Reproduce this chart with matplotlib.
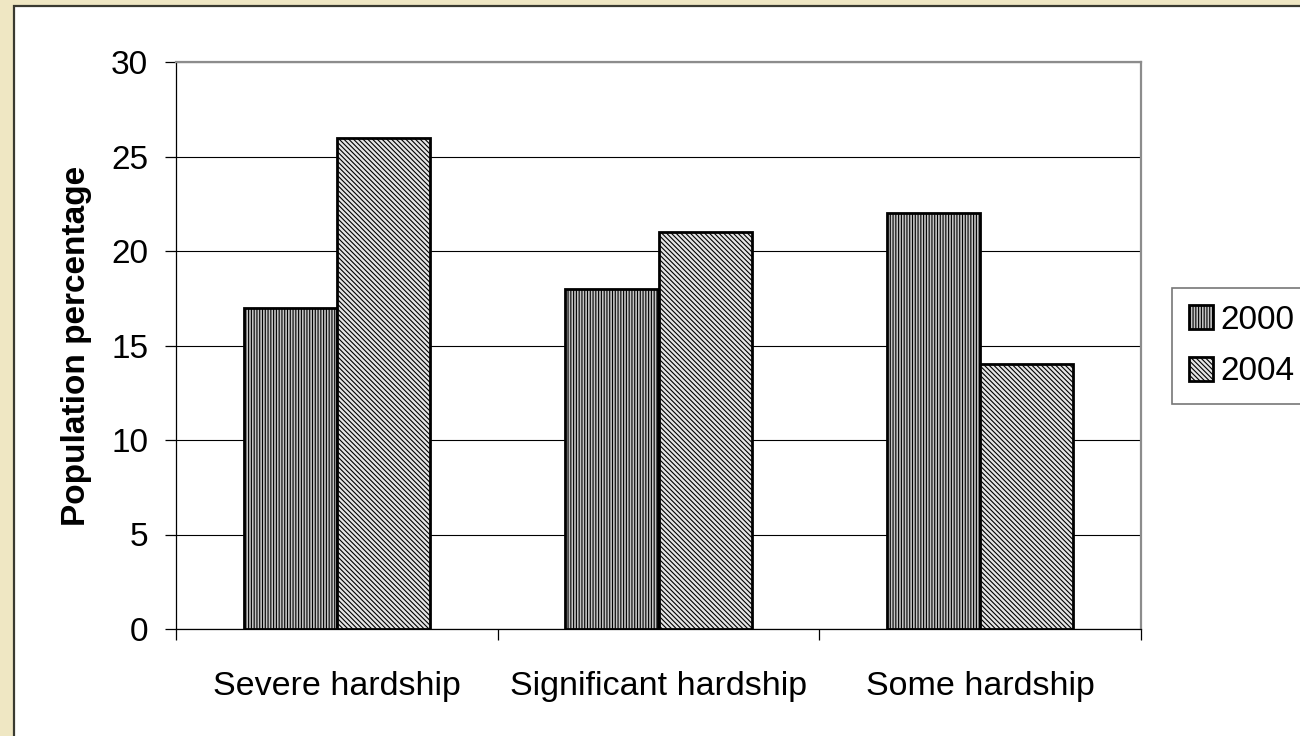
import matplotlib
matplotlib.use("Agg")
import matplotlib.pyplot as plt
import numpy as np
from matplotlib.patches import Rectangle

categories = ["Severe hardship", "Significant hardship", "Some hardship"]
years = ["2000", "2004"]
values_2000 = [17, 18, 22]
values_2004 = [26, 21, 14]
y_ticks = [0, 5, 10, 15, 20, 25, 30]

plt.rcParams["font.family"] = ["Liberation Sans", "DejaVu Sans"]
plt.rcParams["hatch.linewidth"] = 0.8

W, H = 1300, 736
fig = plt.figure(figsize=(W / 100, H / 100), dpi=100)
fig.patch.set_facecolor("#EFE7C3")

# white chart panel with dark border
panel = Rectangle((14 / W, -0.01), 1 - 14 / W + 0.01, 1 - 6 / H + 0.01, transform=fig.transFigure,
                  facecolor="white", edgecolor="#3a3a30", linewidth=1.6, zorder=-10)
fig.patches.append(panel)

ax = fig.add_axes([176 / W, 1 - 629 / H, (1141 - 176) / W, (629 - 62) / H])
ax.set_facecolor("white")

x = np.arange(len(categories))
bw = 0.29
b1 = ax.bar(x - bw / 2, values_2000, bw, facecolor="#c4c4c4", edgecolor="black",
            linewidth=2.0, hatch="||||||", label=years[0], zorder=3)
b2 = ax.bar(x + bw / 2, values_2004, bw, facecolor="#e4e4e4", edgecolor="black",
            linewidth=2.0, hatch="\\\\\\\\\\\\\\", label=years[1], zorder=3)

ax.set_xlim(-0.5, len(categories) - 0.5)
ax.set_ylim(0, 30)
ax.set_yticks(y_ticks)
ax.set_xticks(x)
ax.set_xticklabels(categories)
ax.set_xticks(np.arange(len(categories) + 1) - 0.5, minor=True)

ax.yaxis.grid(True, color="black", linewidth=0.8, zorder=1)
ax.set_axisbelow(True)

for side in ("top", "right"):
    ax.spines[side].set_color("#8c8c8c")
    ax.spines[side].set_linewidth(1.6)
for side in ("left", "bottom"):
    ax.spines[side].set_color("black")
    ax.spines[side].set_linewidth(0.9)

ax.tick_params(axis="y", which="major", length=8, width=0.9, direction="out",
               labelsize=24, pad=12)
ax.tick_params(axis="x", which="major", length=0, labelsize=24.5, pad=30)
ax.tick_params(axis="x", which="minor", length=8, width=0.9, direction="out")

ax.set_ylabel("Population percentage", fontsize=24, fontweight="bold", labelpad=14)

leg = fig.legend(handles=[b1, b2], labels=years, loc="upper left",
                 bbox_to_anchor=(1172 / W, 1 - 288 / H), borderaxespad=0,
                 fontsize=24, frameon=True, fancybox=False, edgecolor="#555555",
                 handlelength=0.72, handleheight=0.72, handletextpad=0.24,
                 labelspacing=0.62, borderpad=0.5)
leg.get_frame().set_linewidth(1.2)

fig.savefig("out.png", dpi=100, facecolor=fig.get_facecolor())
